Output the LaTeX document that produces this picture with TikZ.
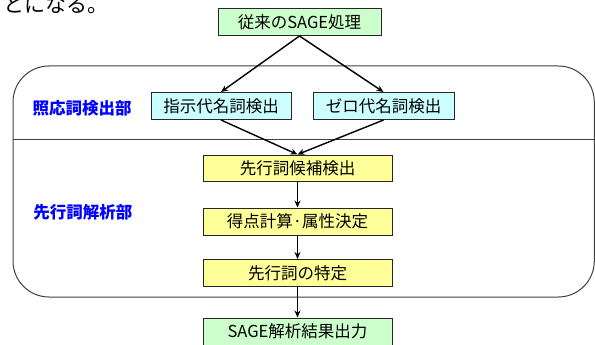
\documentclass[tikz,border=0pt]{standalone}
\usepackage{fontspec}
\setmainfont{Noto Sans CJK JP}
\usetikzlibrary{arrows.meta}
\definecolor{boxgreen}{HTML}{CCFFCC}
\definecolor{boxcyan}{HTML}{CCFFFF}
\definecolor{boxyellow}{HTML}{FFFF99}
\definecolor{labelblue}{HTML}{0000FF}
\tikzset{
  procbox/.style={draw=black!85, line width=1pt, inner sep=0pt, align=center,
    font=\fontsize{16.5}{18}\selectfont, minimum height=27pt},
  greenbox/.style={procbox, fill=boxgreen},
  cyanbox/.style={procbox, fill=boxcyan, minimum width=141pt},
  yellowbox/.style={procbox, fill=boxyellow, minimum width=189pt},
  sectlabel/.style={text=labelblue, font=\fontsize{16.5}{18}\selectfont\bfseries, inner sep=0pt},
  flow/.style={-{Stealth[length=7pt,width=6pt]}, line width=1.4pt, black},
  frame/.style={draw=black!75, line width=1pt}
}
\begin{document}
\begin{tikzpicture}[x=1pt,y=-1pt]
\useasboundingbox (0,0) rectangle (595,345);
\fill[white] (0,0) rectangle (595,345);
% leading sentence fragment
\node[anchor=base west, inner sep=0pt, font=\fontsize{21}{24}\selectfont] (frag) at (3,12.5) {とになる。};
% section frame
\draw[frame, rounded corners=36pt] (13,66) rectangle (594.3,297);
\coordinate (divL) at (13,139);
\coordinate (divR) at (594.3,139);
\draw[frame] (divL) -- (divR);
% section labels
\node[sectlabel] (lab1) at (82,108) {照応詞検出部};
\node[sectlabel] (lab2) at (83,212) {先行詞解析部};
% process boxes
\node[greenbox, minimum width=163pt] (top) at (299.5,22) {従来のSAGE処理};
\node[cyanbox, minimum width=140pt] (dem) at (221,106) {指示代名詞検出};
\node[cyanbox] (zero) at (383.5,106) {ゼロ代名詞検出};
\node[yellowbox, minimum height=26pt] (cand) at (297.5,168) {先行詞候補検出};
\node[yellowbox] (score) at (297.5,221.5) {得点計算·属性決定};
\node[yellowbox] (ident) at (297.5,273) {先行詞の特定};
\node[greenbox, minimum width=189pt] (out) at (297.5,331.5) {SAGE解析結果出力};
% connectors
\draw[flow] (top.south) -- (dem.north);
\draw[flow] (top.south) -- (zero.north);
\draw[flow] (dem.south) -- (cand.north);
\draw[flow] (zero.south) -- (cand.north);
\draw[flow] (cand) -- (score);
\draw[flow] (score) -- (ident);
\draw[flow] (ident) -- (out);
\end{tikzpicture}
\end{document}
